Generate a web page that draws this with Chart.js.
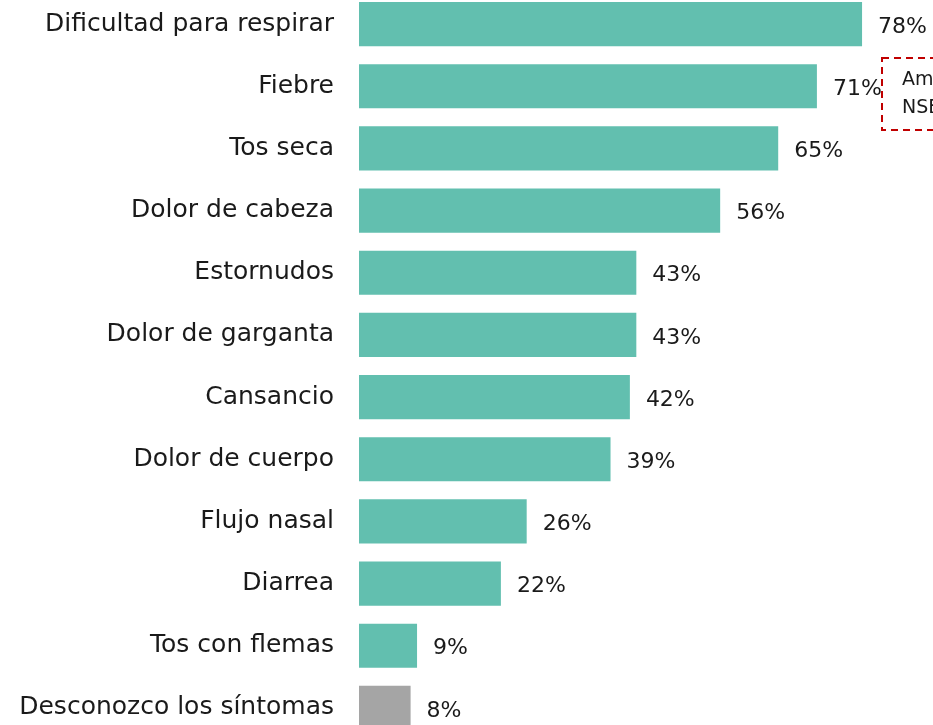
<!DOCTYPE html>
<html>
<head>
<meta charset="utf-8">
<script src="https://cdn.jsdelivr.net/npm/chart.js@4"></script>
<style>
  html, body { margin: 0; padding: 0; background: #fff; overflow: hidden; }
  #wrap { position: relative; width: 933px; height: 725px; overflow: hidden; }
  #box { position: absolute; left: 0; top: -7px; width: 933px; height: 746px; }
</style>
</head>
<body>
<div id="wrap"><div id="box"><canvas id="chart"></canvas></div></div>
<script>
const categories = [
    "Dificultad para respirar", "Fiebre", "Tos seca", "Dolor de cabeza",
    "Estornudos", "Dolor de garganta", "Cansancio", "Dolor de cuerpo",
    "Flujo nasal", "Diarrea", "Tos con flemas", "Desconozco los síntomas"
];
const values = [78, 71, 65, 56, 43, 43, 42, 39, 26, 22, 9, 8];
const barColors = values.map((v, i) => i === values.length - 1 ? "#A5A5A5" : "#62BFAF");

const FONT = "'DejaVu Sans', sans-serif";

// value labels after each bar
const valueLabels = {
    id: "valueLabels",
    afterDatasetsDraw(chart) {
        const ctx = chart.ctx;
        const meta = chart.getDatasetMeta(0);
        ctx.save();
        ctx.font = "22px " + FONT;
        ctx.fillStyle = "#1a1a1a";
        ctx.textBaseline = "middle";
        ctx.textAlign = "left";
        meta.data.forEach((bar, i) => {
            ctx.fillText(values[i] + "%", bar.x + 16, bar.y + 3);
        });
        ctx.restore();
    }
};

// dashed note box at the right edge (cut off)
const noteBox = {
    id: "noteBox",
    afterDraw(chart) {
        const ctx = chart.ctx;
        ctx.save();
        ctx.strokeStyle = "#C00000";
        ctx.lineWidth = 2;
        ctx.setLineDash([7, 5]);
        ctx.strokeRect(882, 65, 80, 72);
        ctx.setLineDash([]);
        ctx.font = "19px " + FONT;
        ctx.fillStyle = "#1a1a1a";
        ctx.textBaseline = "middle";
        ctx.fillText("Ambos", 902, 87);
        ctx.fillText("NSE", 902, 115);
        ctx.restore();
    }
};

new Chart(document.getElementById("chart").getContext("2d"), {
    type: "bar",
    data: {
        labels: categories,
        datasets: [{
            data: values,
            backgroundColor: barColors,
            borderWidth: 0,
            barPercentage: 0.71,
            categoryPercentage: 1
        }]
    },
    options: {
        indexAxis: "y",
        responsive: true,
        maintainAspectRatio: false,
        animation: false,
        devicePixelRatio: 1,
        layout: { padding: 0 },
        plugins: {
            legend: { display: false },
            tooltip: { enabled: false }
        },
        scales: {
            x: { display: false, min: 0, max: 89 },
            y: {
                grid: { display: false },
                border: { display: false },
                ticks: {
                    font: { family: FONT, size: 25 },
                    color: "#1a1a1a",
                    padding: 17,
                    autoSkip: false
                },
                afterFit(scale) {
                    scale.width = 359;
                    scale.paddingTop = 0;
                    scale.paddingBottom = 0;
                }
            }
        }
    },
    plugins: [valueLabels, noteBox]
});
</script>
</body>
</html>
